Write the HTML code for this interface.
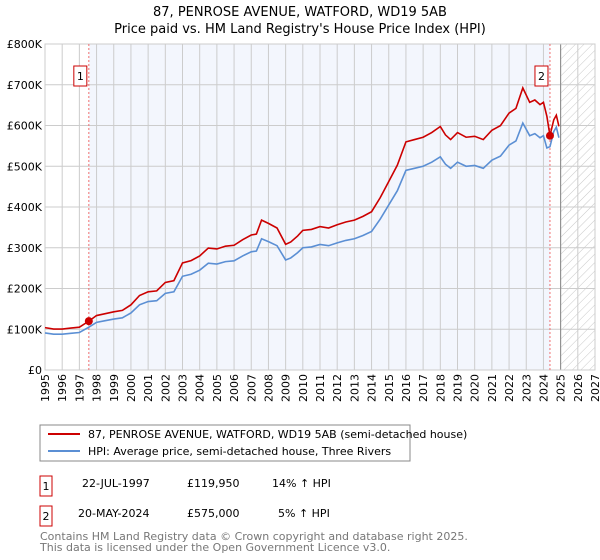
<!DOCTYPE html>
<html><head><meta charset="utf-8"><style>
body{margin:0;background:#fff;font-family:"Liberation Sans","DejaVu Sans",sans-serif;}
#wrap{position:relative;width:600px;height:560px;overflow:hidden}
</style></head><body><div id="wrap">
<svg id="svg" width="600" height="560" xmlns="http://www.w3.org/2000/svg" font-family="DejaVu Sans, Liberation Sans, sans-serif">
<defs><pattern id="hatch" width="6" height="6" patternUnits="userSpaceOnUse" patternTransform="rotate(45)"><line x1="0" y1="0" x2="0" y2="6" stroke="#bbb" stroke-width="0.8"/></pattern></defs>
<text x="300" y="16" text-anchor="middle" font-size="13">87, PENROSE AVENUE, WATFORD, WD19 5AB</text>
<text x="300" y="33" text-anchor="middle" font-size="13">Price paid vs. HM Land Registry's House Price Index (HPI)</text>
<g id="plot"></g>
<rect x="40" y="425" width="370" height="36" fill="#fff" stroke="#888"/>
<line x1="48" y1="434" x2="80" y2="434" stroke="#cc0000" stroke-width="2"/>
<text x="88" y="438" font-size="11">87, PENROSE AVENUE, WATFORD, WD19 5AB (semi-detached house)</text>
<line x1="48" y1="451" x2="80" y2="451" stroke="#5b8fd4" stroke-width="2"/>
<text x="88" y="455" font-size="11">HPI: Average price, semi-detached house, Three Rivers</text>
<g font-size="11">
<rect x="40" y="476" width="12" height="20" fill="none" stroke="#cc0000"/>
<text x="46" y="490" text-anchor="middle">1</text>
<text x="82" y="487">22-JUL-1997</text><text x="187" y="487">£119,950</text><text x="272" y="487">14% ↑ HPI</text>
<rect x="40" y="506" width="12" height="20" fill="none" stroke="#cc0000"/>
<text x="46" y="520" text-anchor="middle">2</text>
<text x="78" y="517">20-MAY-2024</text><text x="187" y="517">£575,000</text><text x="278" y="517">5% ↑ HPI</text>
</g>
<text x="40" y="540" font-size="11" fill="#777">Contains HM Land Registry data © Crown copyright and database right 2025.</text>
<text x="40" y="551" font-size="11" fill="#777">This data is licensed under the Open Government Licence v3.0.</text>
</svg></div>
<script>
const hpiYears=[1995,1995.5,1996,1996.5,1997,1997.55,1998,1998.5,1999,1999.5,2000,2000.5,2001,2001.5,2002,2002.5,2003,2003.5,2004,2004.5,2005,2005.5,2006,2006.5,2007,2007.3,2007.6,2008,2008.5,2009,2009.3,2009.7,2010,2010.5,2011,2011.5,2012,2012.5,2013,2013.5,2014,2014.5,2015,2015.5,2016,2016.5,2017,2017.5,2018,2018.3,2018.6,2019,2019.5,2020,2020.5,2021,2021.5,2022,2022.4,2022.8,2023.2,2023.5,2023.8,2024,2024.2,2024.38,2024.6,2024.75,2024.9];
const hpiValues=[91,88,88,90,92,105,117,121,125,128,140,160,168,170,188,192,230,235,245,262,260,266,268,280,290,292,322,315,305,270,275,288,300,302,308,305,312,318,322,330,340,370,405,440,490,495,500,510,523,505,495,510,500,502,495,515,525,552,562,606,575,580,570,575,545,548,585,596,570];
const sale1Year=1997.55, sale1Price=119.95, sale2Year=2024.38, sale2Price=575;
const yTicks=[0,100,200,300,400,500,600,700,800];
const yTickLabels=["£0","£100K","£200K","£300K","£400K","£500K","£600K","£700K","£800K"];
const xTicks=[1995,1996,1997,1998,1999,2000,2001,2002,2003,2004,2005,2006,2007,2008,2009,2010,2011,2012,2013,2014,2015,2016,2017,2018,2019,2020,2021,2022,2023,2024,2025,2026,2027];
const NS="http://www.w3.org/2000/svg";
const X0=45,X1=595,Y0=370,Y1=44;
const x=v=>X0+(v-1995)/(2027-1995)*(X1-X0);
const y=v=>Y0-v/800*(Y0-Y1);
const g=document.getElementById('plot');
function mk(t,a){const e=document.createElementNS(NS,t);for(const k in a)e.setAttribute(k,a[k]);g.appendChild(e);return e;}
let e=mk('rect',{x:X0,y:Y1,width:X1-X0,height:Y0-Y1,fill:'#fff'});


e=mk('rect',{x:x(sale1Year),y:Y1,width:x(sale2Year)-x(sale1Year),height:Y0-Y1,fill:'#f3f6fd'});


e=mk('rect',{x:x(2025),y:Y1,width:X1-x(2025),height:Y0-Y1,fill:'url(#hatch)'});


xTicks.forEach(t=>{const l=mk('line',{x1:x(t),x2:x(t),y1:Y1,y2:Y0,stroke:'#ccc','stroke-width':1});


const tx=mk('text',{x:0,y:0,'text-anchor':'end','font-size':11,transform:'translate('+(x(t)+4)+','+(Y0+4)+') rotate(-90)'});tx.textContent=t;

});
yTicks.forEach((t,i)=>{const l=mk('line',{x1:X0,x2:X1,y1:y(t),y2:y(t),stroke:'#ccc','stroke-width':1});


const tx=mk('text',{x:X0-3,y:y(t)+4,'text-anchor':'end','font-size':11});tx.textContent=yTickLabels[i];

});
e=mk('line',{x1:x(2025),x2:x(2025),y1:Y1,y2:Y0,stroke:'#888','stroke-width':1});


e=mk('rect',{x:X0,y:Y1,width:X1-X0,height:Y0-Y1,fill:'none',stroke:'#ccc'});


[sale1Year,sale2Year].forEach((s,i)=>{const l=mk('line',{x1:x(s),x2:x(s),y1:Y1,y2:Y0,stroke:'#f07070','stroke-dasharray':'2,2','stroke-width':1});

});
const r1=sale1Price/hpiValues[5], r2=sale2Price/hpiValues[65];
const hp=hpiYears.map((t,i)=>x(t)+','+y(hpiValues[i])).join(' ');
const rp=hpiYears.map((t,i)=>x(t)+','+y(hpiValues[i]*(t<sale2Year?r1:r2))).join(' ');
e=mk('polyline',{points:hp,fill:'none',stroke:'#5b8fd4','stroke-width':1.6});


e=mk('polyline',{points:rp,fill:'none',stroke:'#cc0000','stroke-width':1.6});


[[sale1Year,sale1Price],[sale2Year,sale2Price]].forEach((s,i)=>{const c=mk('circle',{cx:x(s[0]),cy:y(s[1]),r:4,fill:'#cc0000'});


const bx=x(s[0])-15,by=66;
const b=mk('rect',{x:bx,y:by,width:13,height:20,fill:'#fff',stroke:'#cc0000'});


const tx=mk('text',{x:bx+6.5,y:by+14,'text-anchor':'middle','font-size':11});tx.textContent=i+1;

});
</script></body></html>
